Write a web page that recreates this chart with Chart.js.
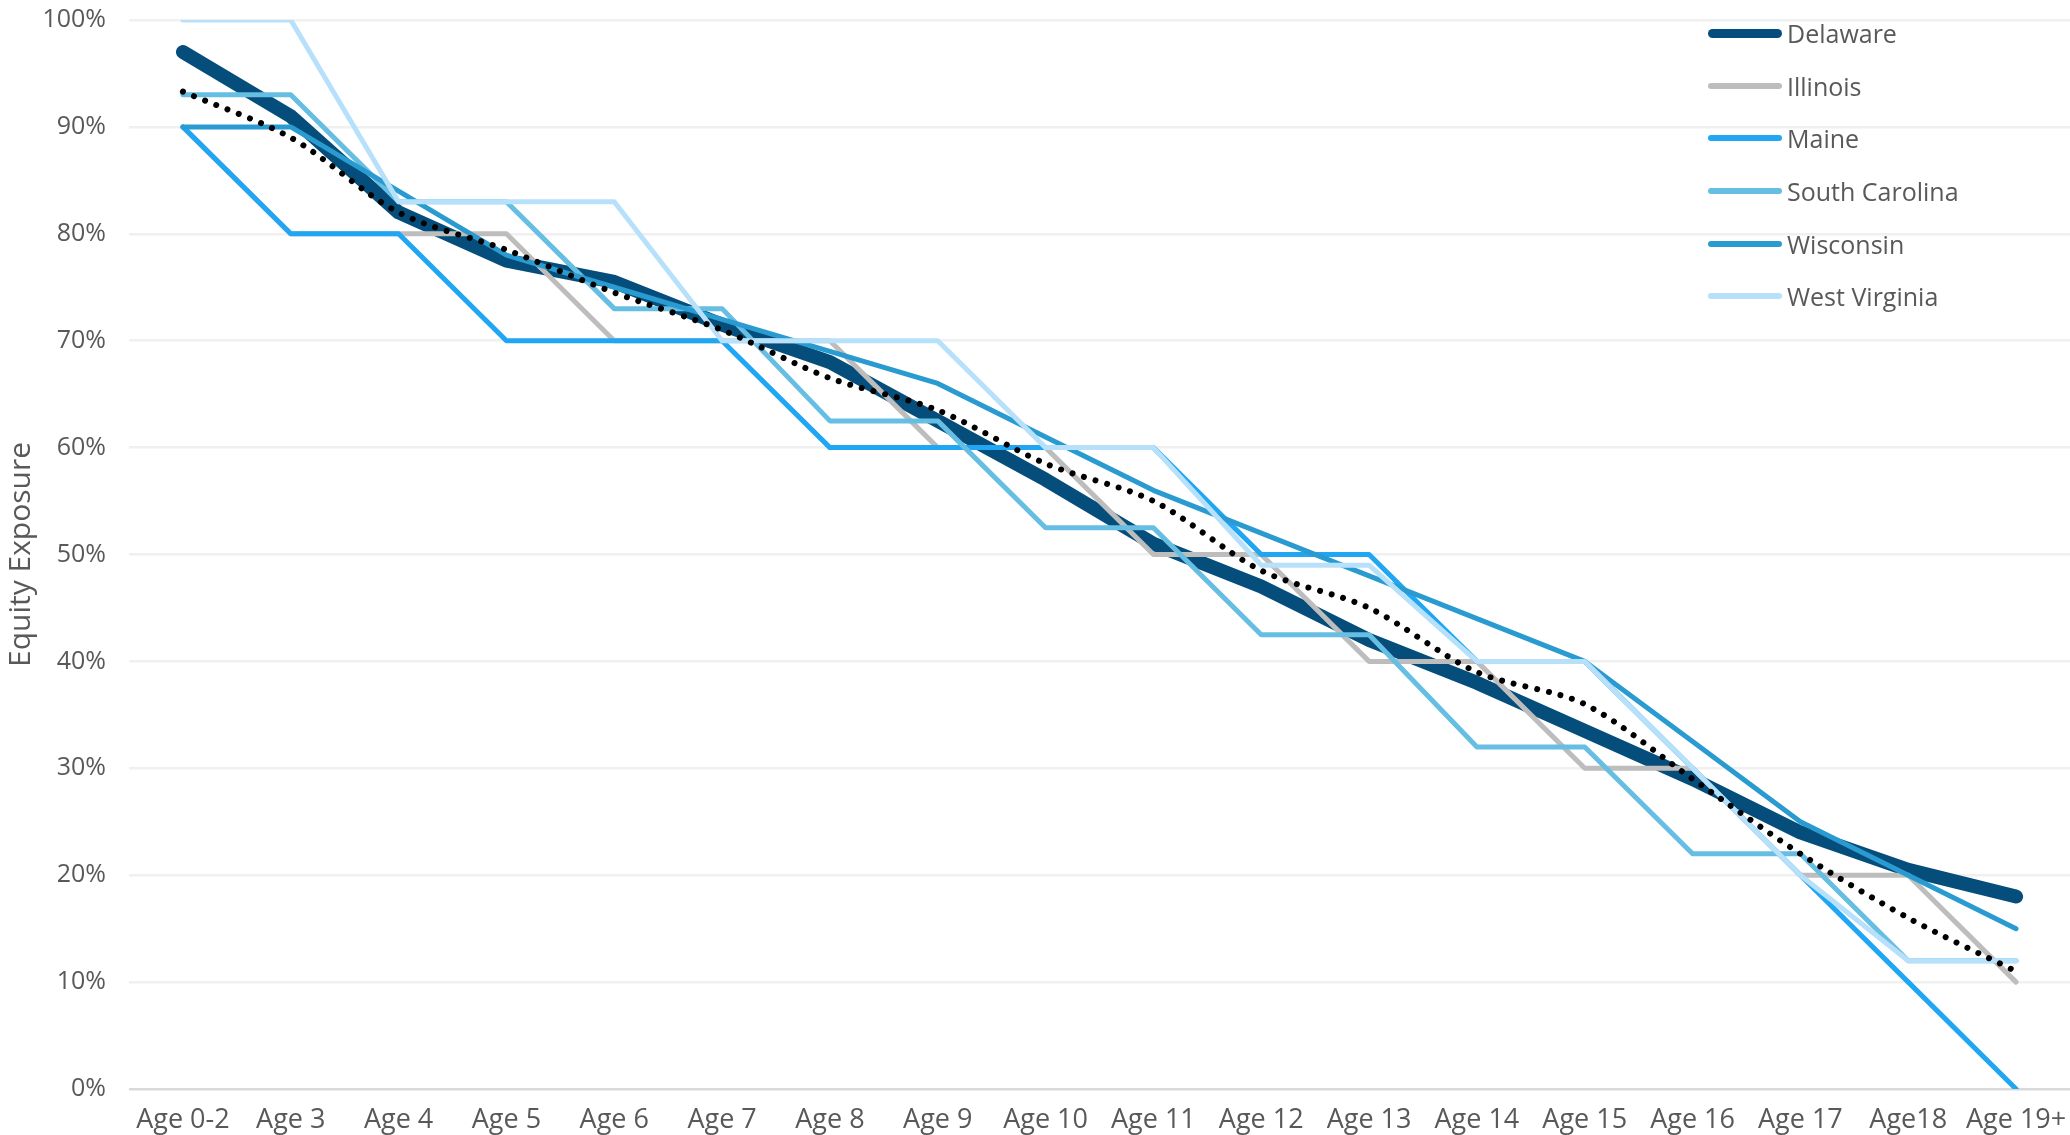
<!DOCTYPE html>
<html lang="en">
<head>
<meta charset="UTF-8">
<title>Equity Exposure by Age</title>
<style>
  body { margin: 0; background: #fff; }
  #wrap { position: relative; width: 2070px; height: 1135px; }
  #legend {
    position: absolute; left: 1708px; top: 7px;
    font-family: 'Open Sans', sans-serif; font-size: 25px; color: #595959;
  }
  .item { display: flex; align-items: center; height: 52.6px; }
  .swatch { width: 74px; border-radius: 5px; margin-right: 5px; }
</style>
</head>
<body>
<div id="wrap">
  <canvas id="lineChart"></canvas>
  <div id="legend"></div>
</div>
<script src="https://cdn.jsdelivr.net/npm/chart.js@4/dist/chart.umd.min.js"></script>
<script>
const ages = ["Age 0-2", "Age 3", "Age 4", "Age 5", "Age 6", "Age 7", "Age 8", "Age 9", "Age 10",
  "Age 11", "Age 12", "Age 13", "Age 14", "Age 15", "Age 16", "Age 17", "Age18", "Age 19+"];

const delaware      = [97, 91, 82, 77.5, 75.5, 71.5, 68, 62.5, 57, 51, 47, 42, 38, 33.5, 29, 24, 20.5, 18];
const illinois      = [90, 80, 80, 80, 70, 70, 70, 60, 60, 50, 50, 40, 40, 30, 30, 20, 20, 10];
const maine         = [90, 80, 80, 70, 70, 70, 60, 60, 60, 60, 50, 50, 40, 40, 30, 20, 10, 0];
const southCarolina = [93, 93, 83, 83, 73, 73, 62.5, 62.5, 52.5, 52.5, 42.5, 42.5, 32, 32, 22, 22, 12, 12];
const wisconsin     = [90, 90, 84, 78, 75, 72, 69, 66, 61, 56, 52, 48, 44, 40, 32.5, 25, 20, 15];
const westVirginia  = [100, 100, 83, 83, 83, 70, 70, 70, 60, 60, 49, 49, 40, 40, 30, 20, 12, 12];
const average       = [93.3, 89, 82, 78.5, 74.5, 71, 66.5, 63.5, 58.5, 55, 48.5, 45, 39, 36, 29, 22, 16, 11];

const textColor = "#595959";
const font = "'Open Sans', sans-serif";

// excel draws the first series at the bottom, so higher order = further back
const series = [
  { label: "Delaware", data: delaware, borderColor: "#054E7C", borderWidth: 14, order: 6 },
  { label: "Illinois", data: illinois, borderColor: "#BDBDBD", borderWidth: 5, order: 5 },
  { label: "Maine", data: maine, borderColor: "#21A6F3", borderWidth: 5, order: 4 },
  { label: "South Carolina", data: southCarolina, borderColor: "#67BEE3", borderWidth: 5, order: 3 },
  { label: "Wisconsin", data: wisconsin, borderColor: "#2A9BD0", borderWidth: 5, order: 2 },
  { label: "West Virginia", data: westVirginia, borderColor: "#B7E1FA", borderWidth: 5, order: 1 }
];

const datasets = series.map(s => Object.assign({
  fill: false,
  borderCapStyle: "round",
  borderJoinStyle: "round",
  pointRadius: 0,
  tension: 0
}, s));

datasets.push({
  label: "Average",
  data: average,
  borderColor: "#000000",
  borderWidth: 6,
  borderDash: [0.01, 12],
  borderCapStyle: "round",
  pointRadius: 0,
  tension: 0.3,
  fill: false,
  order: 0
});

const ctx = document.getElementById("lineChart").getContext("2d");
const chart = new Chart(ctx, {
  type: "line",
  data: { labels: ages, datasets: datasets },
  options: {
    responsive: true,
    maintainAspectRatio: false,
    animation: false,
    layout: { padding: { top: 20, right: 0, bottom: 0, left: 0 } },
    plugins: {
      legend: { display: false },
      tooltip: { enabled: false }
    },
    scales: {
      x: {
        offset: true,
        grid: { display: false, drawTicks: false },
        border: { display: false },
        ticks: {
          padding: 15,
          color: textColor,
          autoSkip: false,
          maxRotation: 0,
          font: { family: font, size: 27 }
        },
        afterFit: scale => {
          scale.height = 46;
          scale.paddingLeft = 0;
          scale.paddingRight = 0;
        }
      },
      y: {
        min: 0,
        max: 100,
        grid: {
          drawTicks: false,
          lineWidth: 2.5,
          color: c => c.tick && c.tick.value === 0 ? "#D9D9D9" : "#F0F0F0"
        },
        border: { display: false },
        ticks: {
          stepSize: 10,
          padding: 23,
          color: textColor,
          font: { family: font, size: 25 },
          callback: v => v + "%"
        },
        title: {
          display: true,
          text: "Equity Exposure",
          color: textColor,
          font: { family: font, size: 30 },
          padding: { top: 3, bottom: 0 }
        },
        afterFit: scale => {
          scale.width = 129;
          // tick padding would otherwise push the plot down
          scale.paddingTop = 0;
          scale.paddingBottom = 0;
        }
      }
    }
  }
});

// legend floats over the top right of the plot
const legendBox = document.getElementById("legend");
series.forEach(s => {
  const row = document.createElement("div");
  row.className = "item";
  const sw = document.createElement("span");
  sw.className = "swatch";
  sw.style.background = s.borderColor;
  sw.style.height = (s.label === "Delaware" ? 9 : 6) + "px";
  const txt = document.createElement("span");
  txt.textContent = s.label;
  row.appendChild(sw);
  row.appendChild(txt);
  legendBox.appendChild(row);
});
</script>
</body>
</html>
